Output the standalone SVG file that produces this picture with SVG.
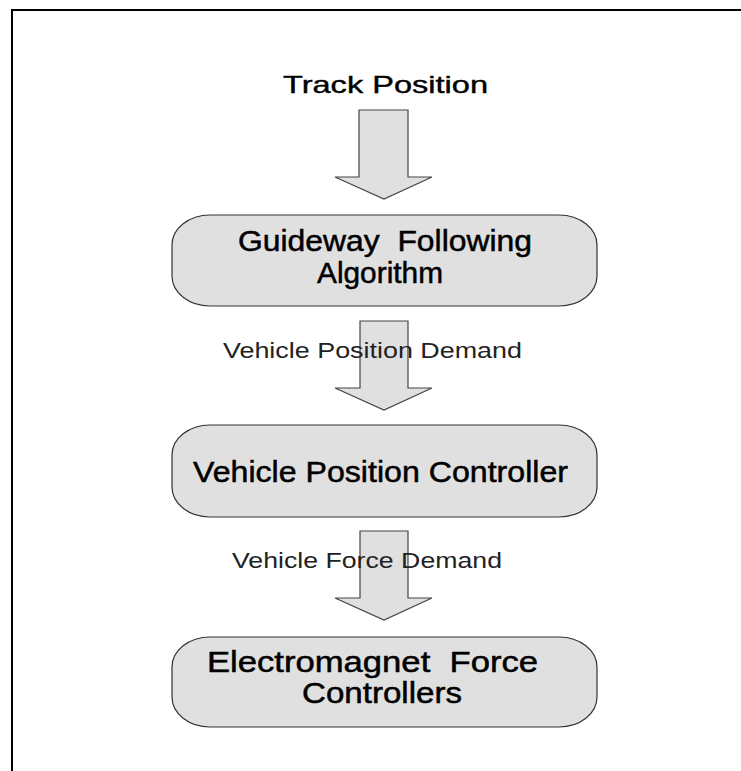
<svg xmlns="http://www.w3.org/2000/svg" width="741" height="771" viewBox="0 0 741 771">
  <style>
    .frame { stroke: #000; stroke-width: 2; fill: none; }
    .box { fill: #e0e0e0; stroke: #333; stroke-width: 1.2; }
    .arrow { fill: #e0e0e0; stroke: #444; stroke-width: 1.2; stroke-linejoin: miter; }
    .title { font-family: "Liberation Sans", Arial, sans-serif; font-size: 29px; fill: #000; stroke: #000; stroke-width: 0.5; white-space: pre; }
    .head { font-family: "Liberation Sans", Arial, sans-serif; font-size: 24px; fill: #000; stroke: #000; stroke-width: 0.4; }
    .flow { font-family: "Liberation Sans", Arial, sans-serif; font-size: 22px; fill: #222; }
  </style>

  <!-- page border (top and left edges only) -->
  <path class="frame" d="M12 771 V9 M11 10 H741"/>

  <!-- input label -->
  <text class="head" x="283" y="93" textLength="205" lengthAdjust="spacingAndGlyphs">Track Position</text>

  <g id="connectors">
    <polygon class="arrow" points="359,110 408,110 408,177 432,177 384,199 335,177 359,177"/>
    <polygon class="arrow" points="360,321 408,321 408,388 432,388 384,410 335,388 360,388"/>
    <text class="flow" x="223" y="358" textLength="299" lengthAdjust="spacingAndGlyphs">Vehicle Position Demand</text>
    <polygon class="arrow" points="360,531 408,531 408,598 432,598 384,620 335,598 360,598"/>
    <text class="flow" x="232" y="568" textLength="270" lengthAdjust="spacingAndGlyphs">Vehicle Force Demand</text>
  </g>

  <g id="guideway">
    <rect class="box" x="172" y="215" width="425" height="91" rx="38" ry="30"/>
    <text class="title" x="238" y="251" textLength="294" lengthAdjust="spacingAndGlyphs" xml:space="preserve">Guideway  Following</text>
    <text class="title" x="317" y="283" textLength="126" lengthAdjust="spacingAndGlyphs">Algorithm</text>
  </g>

  <g id="position-controller">
    <rect class="box" x="172" y="425" width="425" height="92" rx="38" ry="30"/>
    <text class="title" x="193" y="482" textLength="375" lengthAdjust="spacingAndGlyphs">Vehicle Position Controller</text>
  </g>

  <g id="force-controllers">
    <rect class="box" x="172" y="637" width="425" height="90" rx="38" ry="30"/>
    <text class="title" x="207" y="672" textLength="331" lengthAdjust="spacingAndGlyphs" xml:space="preserve">Electromagnet  Force</text>
    <text class="title" x="302" y="703" textLength="160" lengthAdjust="spacingAndGlyphs">Controllers</text>
  </g>
</svg>
